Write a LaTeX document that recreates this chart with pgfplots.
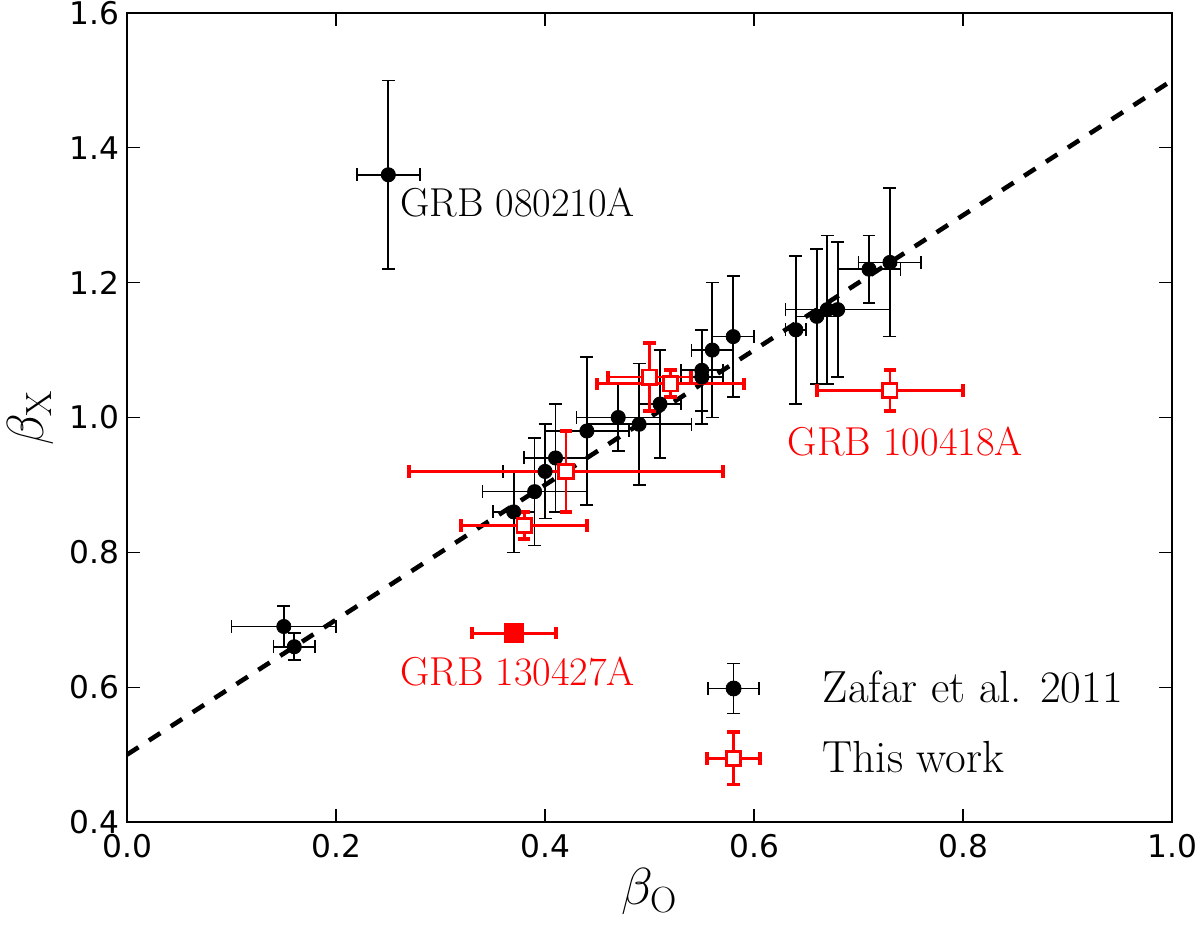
\RequirePackage{fix-cm}
\documentclass[border=0pt]{standalone}
\usepackage{fontspec}
\newfontfamily\dejavu{DejaVu Sans}
\usepackage{pgfplots}
\usepackage{pgfplotstable}
\pgfplotsset{compat=1.18}

\pgfplotstableread{
x y ex ey
0.15 0.69 0.05 0.03
0.16 0.66 0.02 0.02
0.25 1.36 0.03 0.14
0.37 0.86 0.02 0.06
0.39 0.89 0.05 0.08
0.40 0.92 0.04 0.07
0.41 0.94 0.03 0.08
0.44 0.98 0.04 0.11
0.47 1.00 0.04 0.05
0.49 0.99 0.05 0.09
0.51 1.02 0.02 0.08
0.55 1.06 0.02 0.07
0.55 1.07 0.02 0.06
0.56 1.10 0.02 0.10
0.58 1.12 0.02 0.09
0.64 1.13 0.01 0.11
0.66 1.15 0.02 0.10
0.67 1.16 0.01 0.11
0.68 1.16 0.05 0.10
0.71 1.22 0.03 0.05
0.73 1.23 0.03 0.11
}\zafar

\pgfplotstableread{
x y ex ey
0.38 0.84 0.06 0.02
0.42 0.92 0.15 0.06
0.50 1.06 0.04 0.05
0.52 1.05 0.07 0.02
0.73 1.04 0.07 0.03
}\thiswork

\pgfplotstableread{
x y ex
0.37 0.68 0.04
}\grbfilled

\begin{document}
\begin{tikzpicture}
\begin{axis}[
  name=ax, at={(0,0)}, anchor=south west,
  scale only axis, width=501.7pt, height=388.4pt,
  xmin=0, xmax=1, ymin=0.4, ymax=1.6,
  xtick={0,0.2,0.4,0.6,0.8,1},
  ytick={0.4,0.6,0.8,1.0,1.2,1.4,1.6},
  minor tick num=0,
  tick align=inside, tick pos=both,
  xticklabel pos=lower, yticklabel pos=left,
  major tick length=6.2pt,
  major tick style={line width=0.6pt, black},
  axis line style={line width=1.3pt},
  xticklabel={\pgfmathprintnumber[fixed,fixed zerofill,precision=1,assume math mode=true]{\tick}},
  yticklabel={\pgfmathprintnumber[fixed,fixed zerofill,precision=1,assume math mode=true]{\tick}},
  ticklabel style={font=\dejavu\fontsize{15}{18}\selectfont},
  xticklabel style={inner sep=0pt, yshift=-5.8pt},
  yticklabel style={inner sep=0pt, xshift=-3.4pt},
  xlabel={$\beta_{\mathrm{O}}$},
  ylabel={$\beta_{\mathrm{X}}$},
  label style={font=\fontsize{25}{29}\selectfont},
  xlabel style={at={(axis description cs:0.5,-0.0569)}, anchor=north, inner sep=0pt},
  ylabel style={at={(axis description cs:-0.0698,0.5)}, anchor=south, inner sep=0pt},
  legend style={at={(0.553,0.2083)}, anchor=north west, draw=none, fill=none,
    inner sep=0pt, outer sep=0pt, row sep=0pt, column sep=0pt,
    nodes={inner sep=0pt, font=\fontsize{21.6}{26}\selectfont},
    cells={anchor=west}},
]
\addplot[forget plot, black, line width=2.2pt, dash pattern=on 6.5pt off 6pt] coordinates {(0,0.5) (1,1.5)};

\addplot[forget plot, only marks, mark=*, mark size=3.4pt, black,
  mark options={fill=black, draw=black, line width=0.4pt},
  error bars/.cd, x dir=both, x explicit, y dir=both, y explicit,
  error bar style={line width=0.8pt, black},
  error mark options={rotate=90, line width=0.8pt, black, mark size=3.1pt}]
  table[x=x, y=y, x error=ex, y error=ey] {\zafar};

\addplot[forget plot, only marks, mark=square*, mark size=3.45pt, red,
  mark options={fill=white, draw=red, line width=1.3pt},
  error bars/.cd, x dir=both, x explicit, y dir=both, y explicit,
  error bar style={line width=1.3pt, red},
  error mark options={rotate=90, line width=1.9pt, red, mark size=3pt}]
  table[x=x, y=y, x error=ex, y error=ey] {\thiswork};

\addplot[forget plot, only marks, mark=square*, mark size=4.6pt, red,
  mark options={fill=red, draw=red, line width=0.4pt},
  error bars/.cd, x dir=both, x explicit,
  error bar style={line width=1.3pt, red},
  error mark options={rotate=90, line width=1.9pt, red, mark size=3pt}]
  table[x=x, y=y, x error=ex] {\grbfilled};

\addlegendimage{legend image code/.code={
  \path[draw=none, fill=none] (0pt,-16.8pt) rectangle (55pt,16.8pt);
  \draw[black,line width=0.8pt] (0pt,0pt) -- (24.4pt,0pt)
     (0pt,-3.1pt) -- (0pt,3.1pt) (24.4pt,-3.1pt) -- (24.4pt,3.1pt)
     (12.2pt,-12pt) -- (12.2pt,12pt)
     (9.1pt,-12pt) -- (15.3pt,-12pt) (9.1pt,12pt) -- (15.3pt,12pt);
  \fill[black] (12.2pt,0pt) circle (3.6pt);
}}
\addlegendentry{Zafar et al. 2011}
\addlegendimage{legend image code/.code={
  \path[draw=none, fill=none] (0pt,-16.8pt) rectangle (55pt,16.8pt);
  \draw[red,line width=1.3pt] (-0.6pt,0pt) -- (25pt,0pt)
     (12.2pt,-12.5pt) -- (12.2pt,12.5pt);
  \draw[red,line width=1.9pt] (-0.6pt,-3pt) -- (-0.6pt,3pt) (25pt,-3pt) -- (25pt,3pt)
     (9.2pt,-12.5pt) -- (15.2pt,-12.5pt) (9.2pt,12.5pt) -- (15.2pt,12.5pt);
  \filldraw[draw=red, fill=white, line width=1.3pt] (8.75pt,-3.45pt) rectangle (15.65pt,3.45pt);
}}
\addlegendentry{This work}

\node[anchor=west, inner sep=0pt, font=\fontsize{19.4}{23}\selectfont] at (axis cs:0.261,1.319) {GRB 080210A};
\node[anchor=west, inner sep=0pt, text=red, font=\fontsize{19.4}{23}\selectfont] at (axis cs:0.632,0.965) {GRB 100418A};
\node[anchor=west, inner sep=0pt, text=red, font=\fontsize{19.4}{23}\selectfont] at (axis cs:0.261,0.623) {GRB 130427A};
\end{axis}
\pgfresetboundingbox
\path[use as bounding box] ([xshift=-61pt,yshift=-49pt]ax.south west) rectangle ([xshift=13.4pt,yshift=6.24pt]ax.north east);
\end{tikzpicture}
\end{document}
